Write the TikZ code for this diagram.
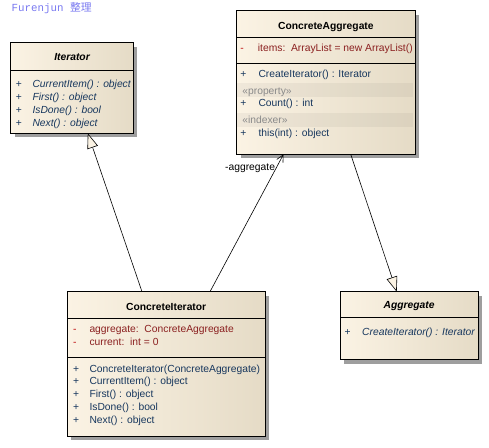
\documentclass[tikz,border=0pt]{standalone}
\usepackage{fontspec}
\setmainfont{Liberation Sans}
\newfontfamily\monof{Liberation Mono}
\newfontfamily\cjk{Noto Sans CJK SC}
\usetikzlibrary{shadows,arrows.meta,calc}
\definecolor{attrcol}{HTML}{8B2020}
\definecolor{attrmark}{HTML}{C01010}
\definecolor{methcol}{HTML}{17375E}
\definecolor{stereocol}{HTML}{8A8A8A}
\definecolor{titlecol}{HTML}{7878F0}
\definecolor{boxleft}{HTML}{FBF3E4}
\definecolor{boxright}{HTML}{E5DBC6}
\newcommand{\fz}{\fontsize{10.3}{12}\selectfont}
\begin{document}
\begin{tikzpicture}[x=1pt,y=-1pt,
  font=\fz,
  cls/.style={draw=black, line width=0.9pt, rectangle, inner sep=0pt, outer sep=0pt,
    anchor=north west, left color=boxleft, right color=boxright,
    drop shadow={shadow xshift=4pt, shadow yshift=-4pt, fill=black!38, opacity=1}},
  divider/.style={draw=black, line width=0.9pt},
  ttl/.style={font=\fz\bfseries, inner sep=0pt, anchor=base},
  txt/.style={inner sep=0pt, anchor=base west},
  meth/.style={txt, text=methcol},
  attr/.style={txt, text=attrcol},
  amark/.style={txt, text=attrmark},
  stereo/.style={txt, text=stereocol},
  band/.style={fill=black, fill opacity=0.045, draw=none},
  gen/.style={draw=black, line width=0.6pt, -{Triangle[length=15pt,width=11pt,fill=boxleft]}},
  assoc/.style={draw=black, line width=0.6pt, -{Straight Barb[length=7pt,width=7pt]}}
]
\useasboundingbox (0,0) rectangle (489,447);

% title
\node[txt, text=titlecol, font=\fontsize{10.8}{12}\selectfont] (hdr) at (11.5,11.3) {\monof Furenjun \cjk 整理};

% ---------- Iterator ----------
\node[cls, minimum width=122.5pt, minimum height=90.5pt] (it) at (10.8,42.8) {};
\draw[divider] ([yshift=-27.3pt]it.north west) -- ([yshift=-27.3pt]it.north east);
\node[ttl, font=\fz\bfseries\itshape] (itT) at ([yshift=-17.7pt]it.north) {Iterator};
\foreach \dy/\t [count=\i] in {44.2/CurrentItem() : object, 57.5/First() : object, 70.2/IsDone() : bool, 83.5/Next() : object}{
  \node[meth] (itP\i) at ([shift={(5,\dy)}]it.north west) {+};
  \node[meth, font=\fz\itshape] (itM\i) at ([shift={(21.5,\dy)}]it.north west) {\t};
}

% ---------- ConcreteAggregate ----------
\node[cls, minimum width=178.3pt, minimum height=143.6pt] (ca) at (236.7,10.7) {};
\draw[divider] ([yshift=-26.6pt]ca.north west) -- ([yshift=-26.6pt]ca.north east);
\draw[divider] ([yshift=-52.6pt]ca.north west) -- ([yshift=-52.6pt]ca.north east);
\node[ttl] (caT) at ([yshift=-18.7pt]ca.north) {ConcreteAggregate};
\node[amark] (caA1m) at ([shift={(3.5,40.7)}]ca.north west) {-};
\node[attr] (caA1) at ([shift={(21,40.7)}]ca.north west) {items:\ \ ArrayList = new ArrayList()};
\node[meth] (caP1) at ([shift={(3.5,66.3)}]ca.north west) {+};
\node[meth] (caM1) at ([shift={(21.6,66.3)}]ca.north west) {CreateIterator() : Iterator};
\path[band] ([shift={(0.6,72.5)}]ca.north west) rectangle ([shift={(-2,86.5)}]ca.north east);
\node[stereo] (caS1) at ([shift={(5.5,83.7)}]ca.north west) {«property»};
\node[meth] (caP2) at ([shift={(3.5,96)}]ca.north west) {+};
\node[meth] (caM2) at ([shift={(21.6,96)}]ca.north west) {Count() : int};
\path[band] ([shift={(0.6,102.5)}]ca.north west) rectangle ([shift={(-2,116.5)}]ca.north east);
\node[stereo] (caS2) at ([shift={(5.5,113)}]ca.north west) {«indexer»};
\node[meth] (caP3) at ([shift={(3.5,126)}]ca.north west) {+};
\node[meth] (caM3) at ([shift={(21.6,126)}]ca.north west) {this(int) : object};

% ---------- ConcreteIterator ----------
\node[cls, minimum width=197.7pt, minimum height=144.3pt] (ci) at (67.3,291.7) {};
\draw[divider] ([yshift=-26.6pt]ci.north west) -- ([yshift=-26.6pt]ci.north east);
\draw[divider] ([yshift=-65.6pt]ci.north west) -- ([yshift=-65.6pt]ci.north east);
\node[ttl] (ciT) at ([yshift=-18.7pt]ci.north) {ConcreteIterator};
\node[amark] (ciA1m) at ([shift={(5.5,41)}]ci.north west) {-};
\node[attr] (ciA1) at ([shift={(22,41)}]ci.north west) {aggregate:\ \ ConcreteAggregate};
\node[amark] (ciA2m) at ([shift={(5.5,54)}]ci.north west) {-};
\node[attr] (ciA2) at ([shift={(22,54)}]ci.north west) {current:\ \ int = 0};
\foreach \dy/\t [count=\i] in {80.3/ConcreteIterator(ConcreteAggregate), 92.7/CurrentItem() : object, 106/First() : object, 118.7/IsDone() : bool, 131.3/Next() : object}{
  \node[meth] (ciP\i) at ([shift={(5.5,\dy)}]ci.north west) {+};
  \node[meth] (ciM\i) at ([shift={(22,\dy)}]ci.north west) {\t};
}

% ---------- Aggregate ----------
\node[cls, minimum width=138.3pt, minimum height=67.8pt] (ag) at (340,291.7) {};
\draw[divider] ([yshift=-25.6pt]ag.north west) -- ([yshift=-25.6pt]ag.north east);
\node[ttl, font=\fz\bfseries\itshape] (agT) at ([yshift=-17pt]ag.north) {Aggregate};
\node[meth] (agP1) at ([shift={(4.5,43.7)}]ag.north west) {+};
\node[meth, font=\fz\itshape] (agM1) at ([shift={(22,43.7)}]ag.north west) {CreateIterator() : Iterator};

% ---------- connectors ----------
\draw[gen] ($(ci.north west)+(74.7,0)$) -- ($(it.south west)+(77,0)$);
\draw[assoc] ($(ci.north west)+(142.7,0)$) -- ($(ca.south west)+(46.8,0)$);
\node[anchor=base east, inner sep=0pt, text=black] (lbl) at ($(ca.south west)+(38.5,16.3)$) {-aggregate};
\draw[gen] ($(ca.south west)+(114,0)$) -- ($(ag.north west)+(56.7,0)$);
\end{tikzpicture}
\end{document}
